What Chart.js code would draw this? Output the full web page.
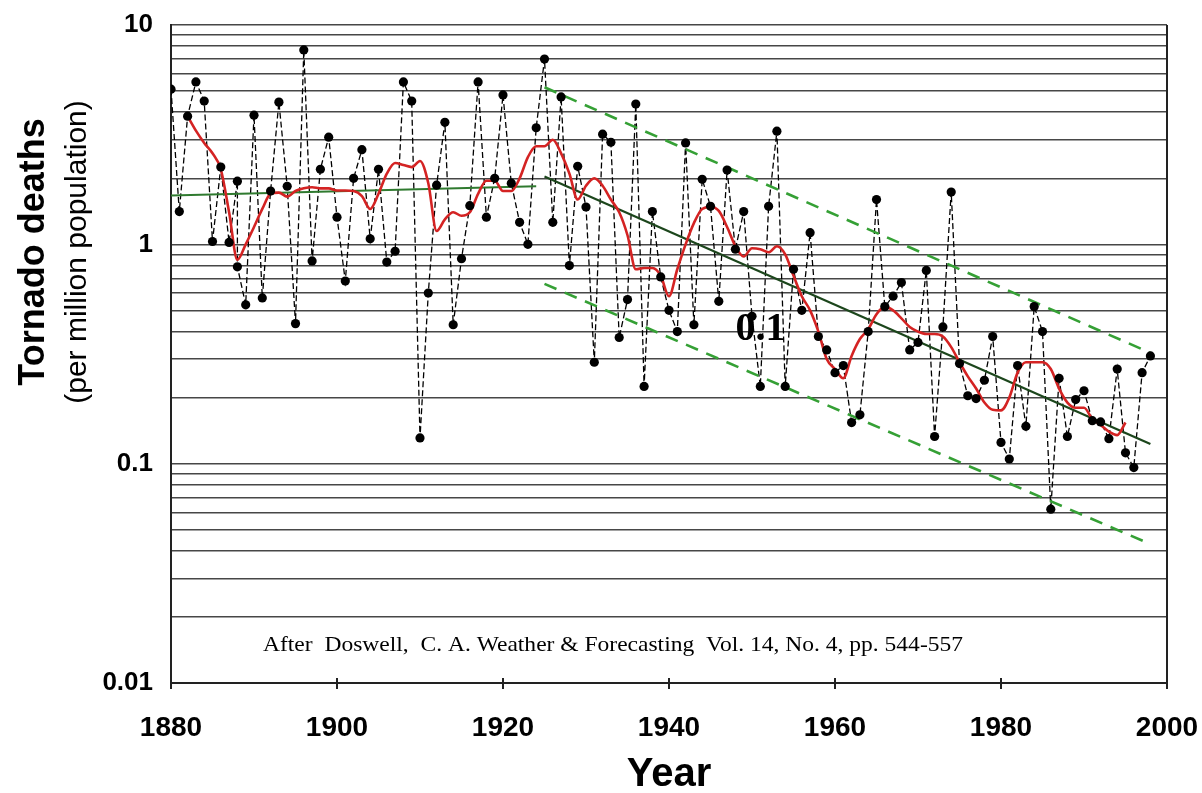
<!DOCTYPE html>
<html><head><meta charset="utf-8">
<script src="https://cdn.jsdelivr.net/npm/chart.js@4.4.1/dist/chart.umd.min.js"></script>
<style>html,body{margin:0;padding:0;background:#fff;}#wrap{width:1202px;height:793px;position:relative;}</style>
</head><body><div id="wrap"><canvas id="c" width="1202" height="793"></canvas></div>
<script>
// ---- data ----
const years = [1880,1881,1882,1883,1884,1885,1886,1887,1888,1888,1889,
1890,1891,1892,1893,1894,1895,1896,1897,1898,1899,
1900,1901,1902,1903,1904,1905,1906,1907,1908,1909,
1910,1911,1912,1913,1914,1915,1916,1917,1918,1919,
1920,1921,1922,1923,1924,1925,1926,1927,1928,1929,
1930,1931,1932,1933,1934,1935,1936,1937,1938,1939,
1940,1941,1942,1943,1944,1945,1946,1947,1948,1949,
1950,1951,1952,1953,1954,1955,1956,1957,1958,1959,
1960,1961,1962,1963,1964,1965,1966,1967,1968,1969,
1970,1971,1972,1973,1974,1975,1976,1977,1978,1979,
1980,1981,1982,1983,1984,1985,1986,1987,1988,1989,
1990,1991,1992,1993,1994,1995,1996,1997,1998];
const deaths = [5.1,1.41,3.84,5.5,4.5,1.03,2.25,1.02,1.94,0.79,0.53,
3.88,0.57,1.75,4.45,1.84,0.435,7.7,0.84,2.2,3.08,
1.33,0.68,2.0,2.7,1.06,2.2,0.83,0.93,5.5,4.5,
0.131,0.60,1.86,3.6,0.43,0.86,1.5,5.5,1.33,2.0,
4.8,1.9,1.26,1.0,3.4,7.0,1.26,4.7,0.80,2.27,
1.48,0.29,3.18,2.92,0.376,0.56,4.36,0.225,1.41,0.71,
0.50,0.40,2.9,0.43,1.98,1.49,0.55,2.18,0.95,1.41,
0.47,0.225,1.49,3.28,0.225,0.77,0.50,1.13,0.38,0.33,
0.26,0.28,0.154,0.167,0.40,1.6,0.52,0.58,0.67,0.33,
0.357,0.76,0.133,0.42,1.73,0.286,0.204,0.198,0.24,0.38,
0.125,0.105,0.28,0.148,0.52,0.40,0.062,0.245,0.133,0.196,
0.215,0.157,0.155,0.13,0.27,0.112,0.096,0.26,0.31];

const smoothYears = [1882,1883,1884,1885,1886,1887,1888,1889,
1890,1891,1892,1893,1894,1895,1896,1897,1898,1899,
1900,1901,1902,1903,1904,1905,1906,1907,1908,1909,
1910,1911,1912,1913,1914,1915,1916,1917,1918,1919,
1920,1921,1922,1923,1924,1925,1926,1927,1928,1929,
1930,1931,1932,1933,1934,1935,1936,1937,1938,1939,
1940,1941,1942,1943,1944,1945,1946,1947,1948,1949,
1950,1951,1952,1953,1954,1955,1956,1957,1958,1959,
1960,1961,1962,1963,1964,1965,1966,1967,1968,1969,
1970,1971,1972,1973,1974,1975,1976,1977,1978,1979,
1980,1981,1982,1983,1984,1985,1986,1987,1988,1989,
1990,1991,1992,1993,1994,1995];
const smoothDeaths = [3.84,3.3,2.9,2.6,2.2,1.4,0.85,1.0,
1.2,1.45,1.7,1.72,1.65,1.75,1.8,1.82,1.8,1.8,
1.76,1.76,1.75,1.66,1.45,1.7,2.1,2.35,2.3,2.25,
2.4,1.9,1.15,1.3,1.4,1.35,1.4,1.7,1.95,1.95,
1.75,1.75,2.0,2.5,2.8,2.8,3.0,2.6,2.1,1.6,
1.85,2.0,1.85,1.6,1.4,1.1,0.77,0.78,0.78,0.72,
0.58,0.77,1.0,1.25,1.45,1.48,1.42,1.2,0.98,0.88,
0.96,0.95,0.92,0.98,0.9,0.72,0.58,0.5,0.4,0.3,
0.27,0.245,0.31,0.37,0.41,0.48,0.52,0.5,0.46,0.42,
0.4,0.39,0.39,0.38,0.34,0.29,0.25,0.22,0.19,0.176,
0.175,0.2,0.26,0.29,0.29,0.29,0.27,0.22,0.19,0.18,
0.18,0.16,0.15,0.14,0.135,0.154];

const earlyTrendYears = [1880, 1924];
const earlyTrendValues = [1.67, 1.84];
const lateTrendYears = [1925, 1998];
const lateTrendValues = [2.04, 0.123];
const upperBandValues = [5.2, 0.32];
const lowerBandValues = [0.66, 0.043];

const xTickLabels = [1880, 1900, 1920, 1940, 1960, 1980, 2000];
const yTickLabels = [0.01, 0.1, 1, 10];
const gridMultipliers = [1, 2, 3, 4, 5, 6, 7, 8, 9];

const annotationText = '0.1';
const annotationAt = [1948, 0.365];
const citation = 'After  Doswell,  C. A. Weather & Forecasting  Vol. 14, No. 4, pp. 544-557';
const yTitle = 'Tornado deaths';
const ySubTitle = '(per million population)';
const xTitle = 'Year';

// ---- build ----
const pts = (xs, ys) => xs.map((v, i) => ({x: v, y: ys[i]}));
const annual = pts(years, deaths);
const SANS = '"Liberation Sans", Arial, sans-serif';
const SERIF = '"Liberation Serif", "Times New Roman", serif';

const decor = {
  id: 'decor',
  afterDraw(chart) {
    const {ctx, chartArea: a, scales: {x, y}} = chart;
    ctx.save();
    ctx.strokeStyle = '#222';
    ctx.lineWidth = 2;
    ctx.beginPath(); ctx.moveTo(a.right, a.top); ctx.lineTo(a.right, a.bottom); ctx.stroke();
    xTickLabels.forEach(v => {
      const px = x.getPixelForValue(v);
      ctx.beginPath(); ctx.moveTo(px, a.bottom - 5); ctx.lineTo(px, a.bottom + 6); ctx.stroke();
    });
    ctx.fillStyle = '#000';
    ctx.textAlign = 'left';
    ctx.textBaseline = 'alphabetic';
    ctx.font = 'bold 40px ' + SERIF;
    ctx.fillText(annotationText, x.getPixelForValue(annotationAt[0]), y.getPixelForValue(annotationAt[1]));
    // citation
    ctx.font = '22px ' + SERIF;
    const w = ctx.measureText(citation).width;
    ctx.save();
    ctx.translate(263, 651);
    ctx.scale(700 / w, 1);
    ctx.fillText(citation, 0, 0);
    ctx.restore();
    // x title
    ctx.textAlign = 'center';
    ctx.font = 'bold 40px ' + SANS;
    ctx.fillText(xTitle, (a.left + a.right) / 2, 786);
    // y titles
    ctx.save();
    ctx.translate(44, 252);
    ctx.rotate(-Math.PI / 2);
    ctx.font = 'bold 36px ' + SANS;
    ctx.fillText(yTitle, 0, 0);
    ctx.restore();
    ctx.save();
    ctx.translate(86, 252);
    ctx.rotate(-Math.PI / 2);
    ctx.font = '30px ' + SANS;
    ctx.fillText(ySubTitle, 0, 0);
    ctx.restore();
    ctx.restore();
  }
};

new Chart(document.getElementById('c'), {
  type: 'line',
  data: {
    datasets: [
      {data: annual, showLine: false, pointRadius: 4.6, pointBackgroundColor: '#000', pointBorderColor: '#000', pointBorderWidth: 0, order: 1},
      {data: pts(smoothYears, smoothDeaths), borderColor: '#d42323', borderWidth: 2.6, pointRadius: 0, cubicInterpolationMode: 'monotone', order: 2},
      {data: pts(earlyTrendYears, earlyTrendValues), borderColor: '#2f7a2f', borderWidth: 2.2, pointRadius: 0, order: 3},
      {data: pts(lateTrendYears, lateTrendValues), borderColor: '#1c461c', borderWidth: 2.2, pointRadius: 0, order: 3},
      {data: pts(lateTrendYears, upperBandValues), borderColor: '#35a035', borderWidth: 2.6, borderDash: [13, 9], pointRadius: 0, order: 4},
      {data: pts(lateTrendYears, lowerBandValues), borderColor: '#35a035', borderWidth: 2.6, borderDash: [13, 9], pointRadius: 0, order: 4},
      {data: annual, borderColor: '#000', borderWidth: 1.3, borderDash: [6, 3], pointRadius: 0, order: 5}
    ]
  },
  options: {
    responsive: false,
    animation: false,
    devicePixelRatio: 1,
    layout: {padding: {top: 25, right: 35, left: 0, bottom: 0}},
    plugins: {legend: {display: false}, tooltip: {enabled: false}},
    scales: {
      x: {
        type: 'linear', min: 1880, max: 2000,
        afterBuildTicks: s => { s.ticks = xTickLabels.map(v => ({value: v})); },
        afterFit: s => { s.height = 110; s.paddingLeft = 0; s.paddingRight = 0; },
        ticks: {callback: v => String(v), color: '#000', font: {family: SANS, size: 28, weight: 'bold'}, padding: 20, maxRotation: 0, autoSkip: false},
        grid: {display: false},
        border: {display: true, color: '#222', width: 2}
      },
      y: {
        type: 'logarithmic', min: 0.01, max: 10,
        afterBuildTicks: s => {
          const t = [];
          yTickLabels.slice(0, 3).forEach(d => gridMultipliers.forEach(m => t.push({value: m * d})));
          t.push({value: yTickLabels[3]});
          s.ticks = t;
        },
        afterFit: s => { s.width = 171; s.paddingTop = 0; s.paddingBottom = 0; },
        ticks: {callback: v => yTickLabels.includes(v) ? String(v) : '', color: '#000', font: {family: SANS, size: 26, weight: 'bold'}, padding: 18, autoSkip: false},
        grid: {color: '#474747', lineWidth: 1.6, drawTicks: false},
        border: {display: true, color: '#222', width: 2}
      }
    }
  },
  plugins: [decor]
});
</script></body></html>
